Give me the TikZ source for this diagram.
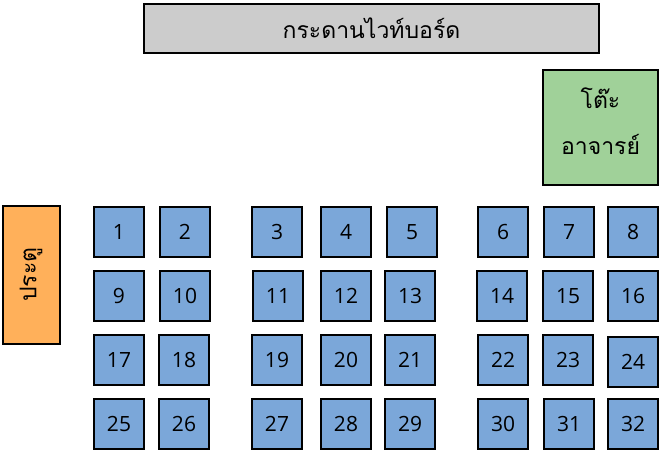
\documentclass[tikz,border=0pt]{standalone}
\usepackage{fontspec}
\newfontfamily\thaifont[Script=Thai]{Loma}
\setmainfont{Open Sans}
\definecolor{deskblue}{HTML}{7BA7D9}
\definecolor{boardgray}{HTML}{CCCCCC}
\definecolor{teachgreen}{HTML}{A0D199}
\definecolor{doororange}{HTML}{FFB05A}
\begin{document}
\begin{tikzpicture}[x=1pt,y=-1pt,
  box/.style={draw=black,line width=2pt,inner sep=0pt,anchor=north west},
  thaitext/.style={font=\thaifont\fontsize{23}{25}\selectfont},
  desk/.style={box,fill=deskblue,minimum width=50pt,minimum height=50pt,font=\fontsize{21}{23}\selectfont}]
\useasboundingbox (0,0) rectangle (660,453);
\node[box,fill=boardgray,minimum width=455pt,minimum height=49pt,thaitext] (board) at (143,3) {กระดานไวท์บอร์ด};
\node[box,fill=teachgreen,minimum width=115pt,minimum height=115pt] (teacher) at (542,69) {};
\node[thaitext,align=center,font=\thaifont\fontsize{23}{46}\selectfont] (teachertext) at ([yshift=6pt]teacher.center) {โต๊ะ\\อาจารย์};
\node[draw=black,line width=2pt,fill=doororange,minimum width=57pt,minimum height=138pt,inner sep=0pt] (door) at (31,274.5) {};
\node[rotate=90,thaitext] (doortext) at (door.center) {ประตู};
% row 1
\node[desk] (d1) at (93,206) {1};
\node[desk] (d2) at (159,206) {2};
\node[desk] (d3) at (251,206) {3};
\node[desk] (d4) at (320,206) {4};
\node[desk] (d5) at (386,206) {5};
\node[desk] (d6) at (477,206) {6};
\node[desk] (d7) at (543,206) {7};
\node[desk] (d8) at (607,206) {8};
% row 2
\node[desk] (d9) at (93,270) {9};
\node[desk] (d10) at (159,270) {10};
\node[desk] (d11) at (252,270) {11};
\node[desk] (d12) at (320,270) {12};
\node[desk] (d13) at (384,270) {13};
\node[desk] (d14) at (476,270) {14};
\node[desk] (d15) at (542,270) {15};
\node[desk] (d16) at (607,270) {16};
% row 3
\node[desk] (d17) at (93,334) {17};
\node[desk] (d18) at (158,334) {18};
\node[desk] (d19) at (251,334) {19};
\node[desk] (d20) at (320,334) {20};
\node[desk] (d21) at (384,334) {21};
\node[desk] (d22) at (477,334) {22};
\node[desk] (d23) at (542,334) {23};
\node[desk] (d24) at (607,336) {24};
% row 4
\node[desk] (d25) at (93,398) {25};
\node[desk] (d26) at (158,398) {26};
\node[desk] (d27) at (251,398) {27};
\node[desk] (d28) at (320,398) {28};
\node[desk] (d29) at (384,398) {29};
\node[desk] (d30) at (477,398) {30};
\node[desk] (d31) at (543,398) {31};
\node[desk] (d32) at (607,398) {32};
\end{tikzpicture}
\end{document}
